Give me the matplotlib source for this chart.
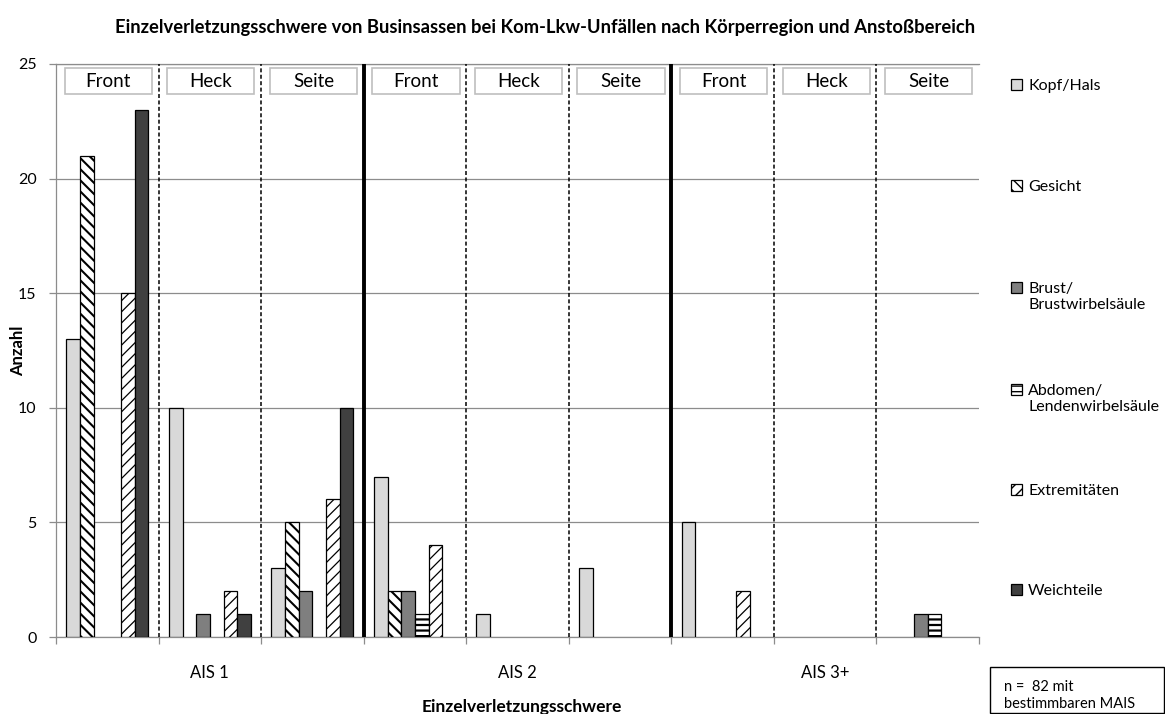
import matplotlib
matplotlib.use("Agg")
import matplotlib.pyplot as plt
from matplotlib.patches import Rectangle, Patch
import numpy as np

plt.rcParams['font.family'] = ['Lato', 'DejaVu Sans']

# ---------------- data ----------------
ais_levels = ["AIS 1", "AIS 2", "AIS 3+"]
impact_areas = ["Front", "Heck", "Seite"]
body_regions = ["Kopf/Hals", "Gesicht", "Brust/\nBrustwirbelsäule",
                "Abdomen/\nLendenwirbelsäule", "Extremitäten", "Weichteile"]

# order of groups: AIS1 Front, Heck, Seite | AIS2 Front, Heck, Seite | AIS3+ Front, Heck, Seite
kopf_hals     = [13, 10, 3, 7, 1, 3, 5, 0, 0]
gesicht       = [21, 0, 5, 2, 0, 0, 0, 0, 0]
brust         = [0, 1, 2, 2, 0, 0, 0, 0, 1]
abdomen       = [0, 0, 0, 1, 0, 0, 0, 0, 1]
extremitaeten = [15, 2, 6, 4, 0, 0, 2, 0, 0]
weichteile    = [23, 1, 10, 0, 0, 0, 0, 0, 0]

series = [kopf_hals, gesicht, brust, abdomen, extremitaeten, weichteile]

title = "Einzelverletzungsschwere von Businsassen bei Kom-Lkw-Unfällen nach Körperregion und Anstoßbereich"
note = "n =  82 mit\nbestimmbaren MAIS"

# ---------------- styles ----------------
facecolors = ["#D9D9D9", "white", "#7F7F7F", "white", "white", "#404040"]
hatches = [None, "\\\\\\", None, "---", "///", None]
hatch_lws = [1.0, 1.5, 1.0, 1.6, 0.9, 1.0]
grid_col = "#8C8C8C"

fig = plt.figure(figsize=(11.65, 7.14), dpi=100)
ax = fig.add_axes([0.0481, 0.1078, 0.7922, 0.8026])

n_groups = len(kopf_hals)
x = np.arange(n_groups)
n_series = len(series)
w = 1.0 / (n_series + 1.5)

handles = []
for i, (vals, fc, h, hlw) in enumerate(zip(series, facecolors, hatches, hatch_lws)):
    offs = (i - (n_series - 1) / 2) * w
    with plt.rc_context({'hatch.linewidth': hlw, 'hatch.color': 'black'}):
        bars = ax.bar(x + offs, vals, width=w, facecolor=fc, edgecolor="black",
                      linewidth=0.9, hatch=h, zorder=3)
        for b in bars:
            if b.get_height() == 0:
                b.set_visible(False)
        handles.append(Patch(facecolor=fc, edgecolor="black", linewidth=0.9, hatch=h))

ax.set_xlim(-0.5, n_groups - 0.5)
ax.set_ylim(0, 25)
ax.set_yticks(np.arange(0, 26, 5))
ax.yaxis.grid(True, color=grid_col, linewidth=0.9, zorder=0)
ax.set_axisbelow(True)

ax.spines["right"].set_visible(False)
for s in ["left", "bottom", "top"]:
    ax.spines[s].set_color(grid_col)
    ax.spines[s].set_linewidth(0.9)

# x ticks: labels at AIS centres, tick marks at group boundaries
ax.set_xticks([1, 4, 7])
ax.set_xticklabels(ais_levels)
ax.set_xticks(np.arange(-0.5, n_groups, 1), minor=True)
ax.tick_params(axis="x", which="major", length=0, pad=20, labelsize=12)
ax.tick_params(axis="x", which="minor", length=5, color=grid_col, width=0.9)
ax.tick_params(axis="y", length=5, color=grid_col, width=0.9, pad=9, labelsize=11.5)

# separators
for b in [0.5, 1.5, 3.5, 4.5, 6.5, 7.5]:
    ax.axvline(b, color="black", linestyle=(0, (2.6, 1.6)), linewidth=1.1, zorder=4)
for b in [2.5, 5.5]:
    ax.axvline(b, color="black", linewidth=2.8, zorder=4)

# impact-area boxes
for g in range(n_groups):
    ax.add_patch(Rectangle((g - 0.415, 23.7), 0.85, 1.13, facecolor="white",
                           edgecolor="#BFBFBF", linewidth=1.2, zorder=5))
    ax.text(g + 0.01, 24.22, impact_areas[g % 3], ha="center", va="center",
            fontsize=13.5, zorder=6)

ax.set_ylabel("Anzahl", fontsize=12, fontweight="bold")
ax.yaxis.set_label_coords(-0.032, 0.5)
ax.set_xlabel("Einzelverletzungsschwere", fontsize=12.5, fontweight="bold")
ax.xaxis.set_label_coords(0.505, -0.108)

fig.text(0.468, 0.962, title, ha="center", va="center", fontsize=13.2, fontweight="bold")

# legend: one entry per slot, evenly spaced
legend_y = [85, 186, 288, 390, 490, 590]
for hnd, lab, yy in zip(handles, body_regions, legend_y):
    leg = fig.legend(handles=[hnd], labels=[lab], loc="upper left",
                     bbox_to_anchor=(1011 / 1165, 1 - (yy - 6) / 714),
                     frameon=False, fontsize=11.5, borderpad=0, borderaxespad=0,
                     handlelength=0.68, handleheight=0.68, handletextpad=0.4)
    for col in leg._legend_handle_box.get_children():
        for item in col.get_children():
            item.align = "top"

# note box
fig.add_artist(Rectangle((990 / 1165, 1 - 713 / 714), 174 / 1165, 46 / 714,
                         transform=fig.transFigure, facecolor="white",
                         edgecolor="black", linewidth=1.0))
fig.text(1004 / 1165, 1 - 695.5 / 714, note, ha="left", va="center", fontsize=10.5)

fig.savefig("out.png", dpi=100)
